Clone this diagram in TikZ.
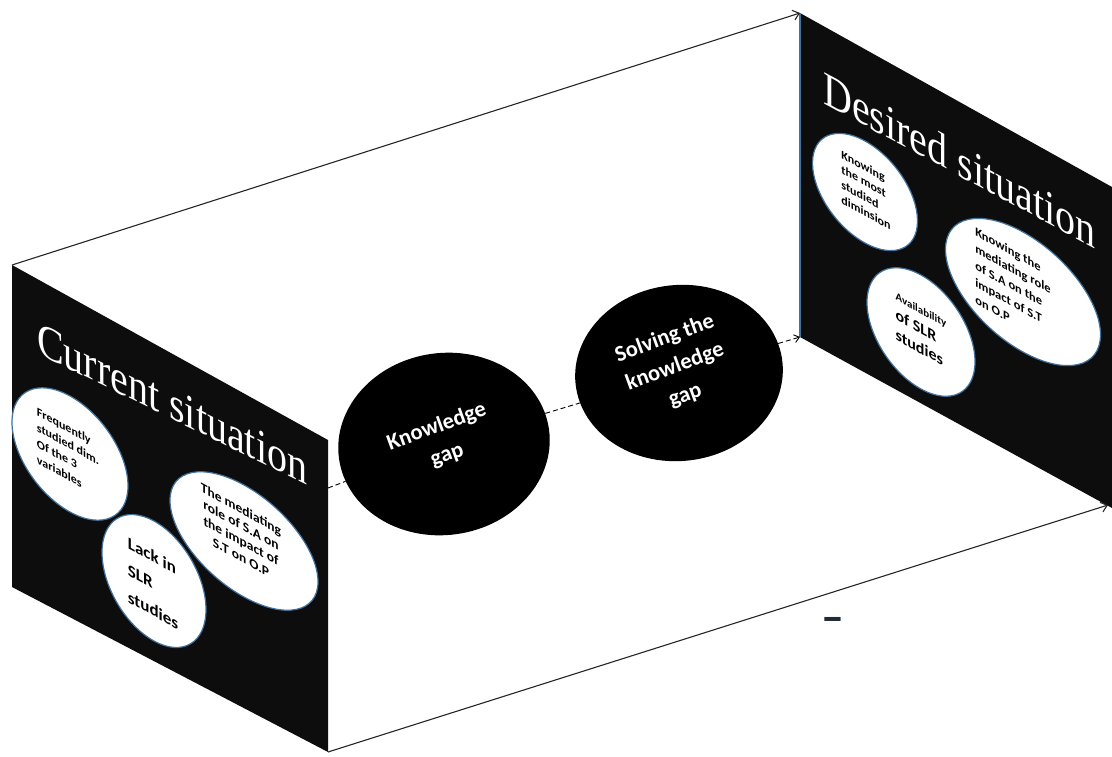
\documentclass[tikz,border=0pt]{standalone}
\usepackage{fontspec}
\setmainfont{Liberation Serif}
\newfontfamily\calfont{Carlito}
\usetikzlibrary{shapes.geometric,arrows.meta}
\definecolor{panelcol}{HTML}{0D0D0D}
\definecolor{edgeblue}{HTML}{41719C}
\definecolor{markcol}{HTML}{1F2B38}
\newcommand{\fsz}[2]{\fontsize{#1}{#2}\selectfont}
\begin{document}
\begin{tikzpicture}[x=1pt,y=-1pt,
  panelbox/.style={fill=panelcol},
  flow/.style={draw=black!85, line width=1.1pt, -{Straight Barb[length=6pt,width=10pt]}},
  gapline/.style={draw=black, line width=0.9pt, dash pattern=on 5pt off 3pt},
  titletext/.style={text=white, inner sep=0pt, font=\fsz{40}{44}},
  pell/.style={ellipse, draw=edgeblue, line width=1.2pt, fill=white, inner sep=0pt},
  ptext/.style={text=black, inner sep=0pt, font={\calfont\bfseries}},
  gapell/.style={ellipse, fill=black, inner sep=0pt},
  gaptext/.style={text=white, inner sep=0pt, align=center, rotate=20, font={\calfont\bfseries\fsz{22.5}{30}}}
]
\useasboundingbox (0,0) rectangle (1112,756);
\fill[white] (0,0) rectangle (1112,756);

% corners
\coordinate (lTL) at (12,265);
\coordinate (lTR) at (328,440);
\coordinate (lBR) at (328,752);
\coordinate (lBL) at (12,587);
\coordinate (lR) at (328,488);
\coordinate (rTL) at (800,13);
\coordinate (rTR) at (1112,187);
\coordinate (rBR) at (1112,508);
\coordinate (rBL) at (800,337);
\coordinate (rBRa) at (1108,505);

% panels
\fill[panelbox] (lTL) -- (lTR) -- (lBR) -- (lBL) -- cycle;
\fill[panelbox] (rTL) -- (rTR) -- (rBR) -- (rBL) -- cycle;
\draw[edgeblue, line width=1.2pt] (rTL) -- (rBL);

% outer arrows
\draw[flow] (lTL) -- (rTL);
\draw[flow] (lBR) -- (rBRa);

% middle ellipses
\node[gapell, minimum width=212, minimum height=182, rotate=8] (kg) at (444,444) {};
\node[gapell, minimum width=208, minimum height=176, rotate=6] (sg) at (679,373) {};
\draw[gapline] (lR) -- (kg);
\draw[gapline] (kg) -- (sg);
\draw[gapline, -{Straight Barb[length=5pt,width=8pt]}] (sg) -- (rBL);
\node[gaptext] (kgt) at (442,441) {Knowledge\\gap};
\node[gaptext] (sgt) at (675,367) {Solving the\\knowledge\\gap};

% left panel
\node[titletext, anchor=base west, yslant=-0.49, yscale=1.2] (ctitle) at (37,353) {Current situation};
\node[pell, minimum width=116, minimum height=116, yslant=-0.55] (le1) at (70,454) {};
\node[pell, minimum width=104, minimum height=120, yslant=-0.55] (le2) at (154,581) {};
\node[pell, minimum width=148, minimum height=112, yslant=-0.55] (le3) at (244,541) {};
\node[ptext, align=left, yslant=-0.55, font={\calfont\bfseries\fsz{12}{16}}] (le1t) at (68,452) {Frequently\\studied dim.\\Of the 3\\variables};
\node[ptext, align=left, yslant=-0.55, font={\calfont\bfseries\fsz{17}{27}}] (le2t) at (153,583) {Lack in\\SLR\\studies};
\node[ptext, align=center, yslant=-0.55, font={\calfont\bfseries\fsz{13.5}{16}}] (le3t) at (241,533) {The mediating\\role of S.A on\\the impact of\\S.T on O.P};

% right panel
\node[titletext, anchor=base west, yslant=-0.535, yscale=1.2] (dtitle) at (823,103) {Desired situation};
\node[pell, minimum width=105, minimum height=102, yslant=-0.55] (re1) at (865,192) {};
\node[pell, minimum width=108, minimum height=114, yslant=-0.55] (re2) at (921,332) {};
\node[pell, minimum width=155, minimum height=120, yslant=-0.55] (re3) at (1023,292) {};
\node[ptext, align=left, yslant=-0.55, font={\calfont\bfseries\fsz{12}{15}}] (re1t) at (866,190) {Knowing\\the most\\studied\\diminsion};
\node[ptext, align=left, yslant=-0.55, font={\calfont\bfseries\fsz{16}{20}}] (re2t) at (921,330) {{\fsz{11}{13}Availability}\\of SLR\\studies};
\node[ptext, align=left, yslant=-0.55, font={\calfont\bfseries\fsz{12.5}{17}}] (re3t) at (1013,286) {Knowing the\\mediating role\\of S.A on the\\impact of S.T\\on O.P};

% stray mark
\node[text=markcol, inner sep=0pt, font={\calfont\bfseries\fsz{46}{46}}] (mk) at (833,625) {–};
\end{tikzpicture}
\end{document}
